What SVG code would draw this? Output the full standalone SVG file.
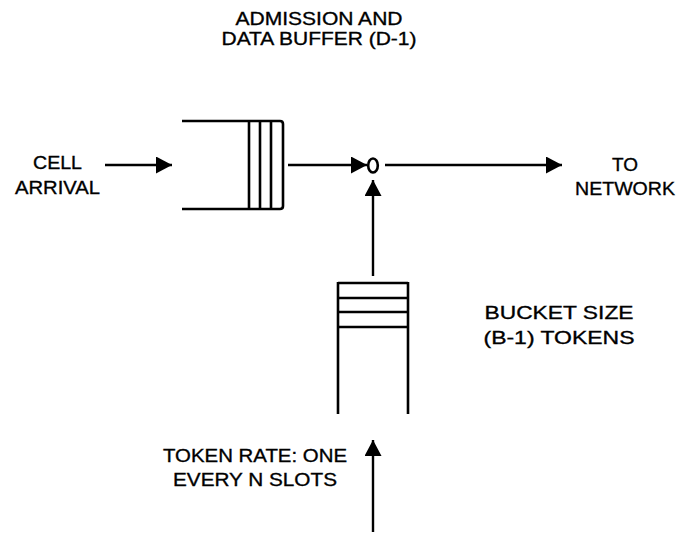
<svg xmlns="http://www.w3.org/2000/svg" width="678" height="538" viewBox="0 0 678 538">
  <style>
    .lbl { font-family: "Liberation Sans", Arial, Helvetica, sans-serif; font-size: 19px; fill: #000; stroke: #000; stroke-width: 0.35; text-anchor: middle; }
    .ln { stroke: #000; stroke-width: 2.6; fill: none; }
    .conn { stroke: #000; stroke-width: 2.4; fill: none; }
  </style>
  <defs>
    <marker id="ah" markerUnits="userSpaceOnUse" markerWidth="16" markerHeight="17" refX="16" refY="8.5" orient="auto">
      <path d="M0,0 L16,8.5 L0,17 z" fill="#000"/>
    </marker>
  </defs>
  <rect width="678" height="538" fill="#fff"/>

  <g id="title">
    <text class="lbl" x="319" y="25" textLength="167" lengthAdjust="spacingAndGlyphs">ADMISSION AND</text>
    <text class="lbl" x="319" y="45" textLength="195" lengthAdjust="spacingAndGlyphs">DATA BUFFER (D-1)</text>
  </g>

  <g id="cell-arrival">
    <text class="lbl" x="57.5" y="169" textLength="49" lengthAdjust="spacingAndGlyphs">CELL</text>
    <text class="lbl" x="57.5" y="194" textLength="85" lengthAdjust="spacingAndGlyphs">ARRIVAL</text>
  </g>

  <g id="data-buffer">
    <path class="ln" d="M182,121 H280 Q283,121 283,124 V206 Q283,209 280,209 H182"/>
    <line class="ln" x1="249" y1="121" x2="249" y2="209"/>
    <line class="ln" x1="260" y1="121" x2="260" y2="209"/>
    <line class="ln" x1="271" y1="121" x2="271" y2="209"/>
  </g>

  <g id="junction">
    <ellipse class="ln" cx="373" cy="165.5" rx="4.8" ry="7" stroke-width="2.4"/>
  </g>

  <g id="to-network">
    <text class="lbl" x="625" y="171" textLength="26" lengthAdjust="spacingAndGlyphs">TO</text>
    <text class="lbl" x="625" y="195" textLength="100" lengthAdjust="spacingAndGlyphs">NETWORK</text>
  </g>

  <g id="token-bucket">
    <line class="ln" x1="338" y1="283" x2="408" y2="283"/>
    <line class="ln" x1="338" y1="298" x2="408" y2="298" stroke-width="3.2"/>
    <line class="ln" x1="338" y1="312" x2="408" y2="312"/>
    <line class="ln" x1="338" y1="327" x2="408" y2="327"/>
    <line class="ln" x1="338" y1="282" x2="338" y2="414"/>
    <line class="ln" x1="408" y1="282" x2="408" y2="414"/>
  </g>

  <g id="bucket-label">
    <text class="lbl" x="559" y="319" textLength="149" lengthAdjust="spacingAndGlyphs">BUCKET SIZE</text>
    <text class="lbl" x="559" y="344" textLength="151" lengthAdjust="spacingAndGlyphs">(B-1) TOKENS</text>
  </g>

  <g id="token-rate">
    <text class="lbl" x="255" y="462" textLength="184" lengthAdjust="spacingAndGlyphs">TOKEN RATE: ONE</text>
    <text class="lbl" x="255" y="486" textLength="164" lengthAdjust="spacingAndGlyphs">EVERY N SLOTS</text>
  </g>

  <g id="connectors">
    <line class="conn" x1="105" y1="165" x2="172" y2="165" marker-end="url(#ah)"/>
    <line class="conn" x1="288" y1="165" x2="367" y2="165" marker-end="url(#ah)"/>
    <line class="conn" x1="385" y1="165" x2="562" y2="165" marker-end="url(#ah)"/>
    <line class="conn" x1="373" y1="276" x2="373" y2="180" marker-end="url(#ah)"/>
    <line class="conn" x1="373" y1="532" x2="373" y2="440" marker-end="url(#ah)"/>
  </g>
</svg>
